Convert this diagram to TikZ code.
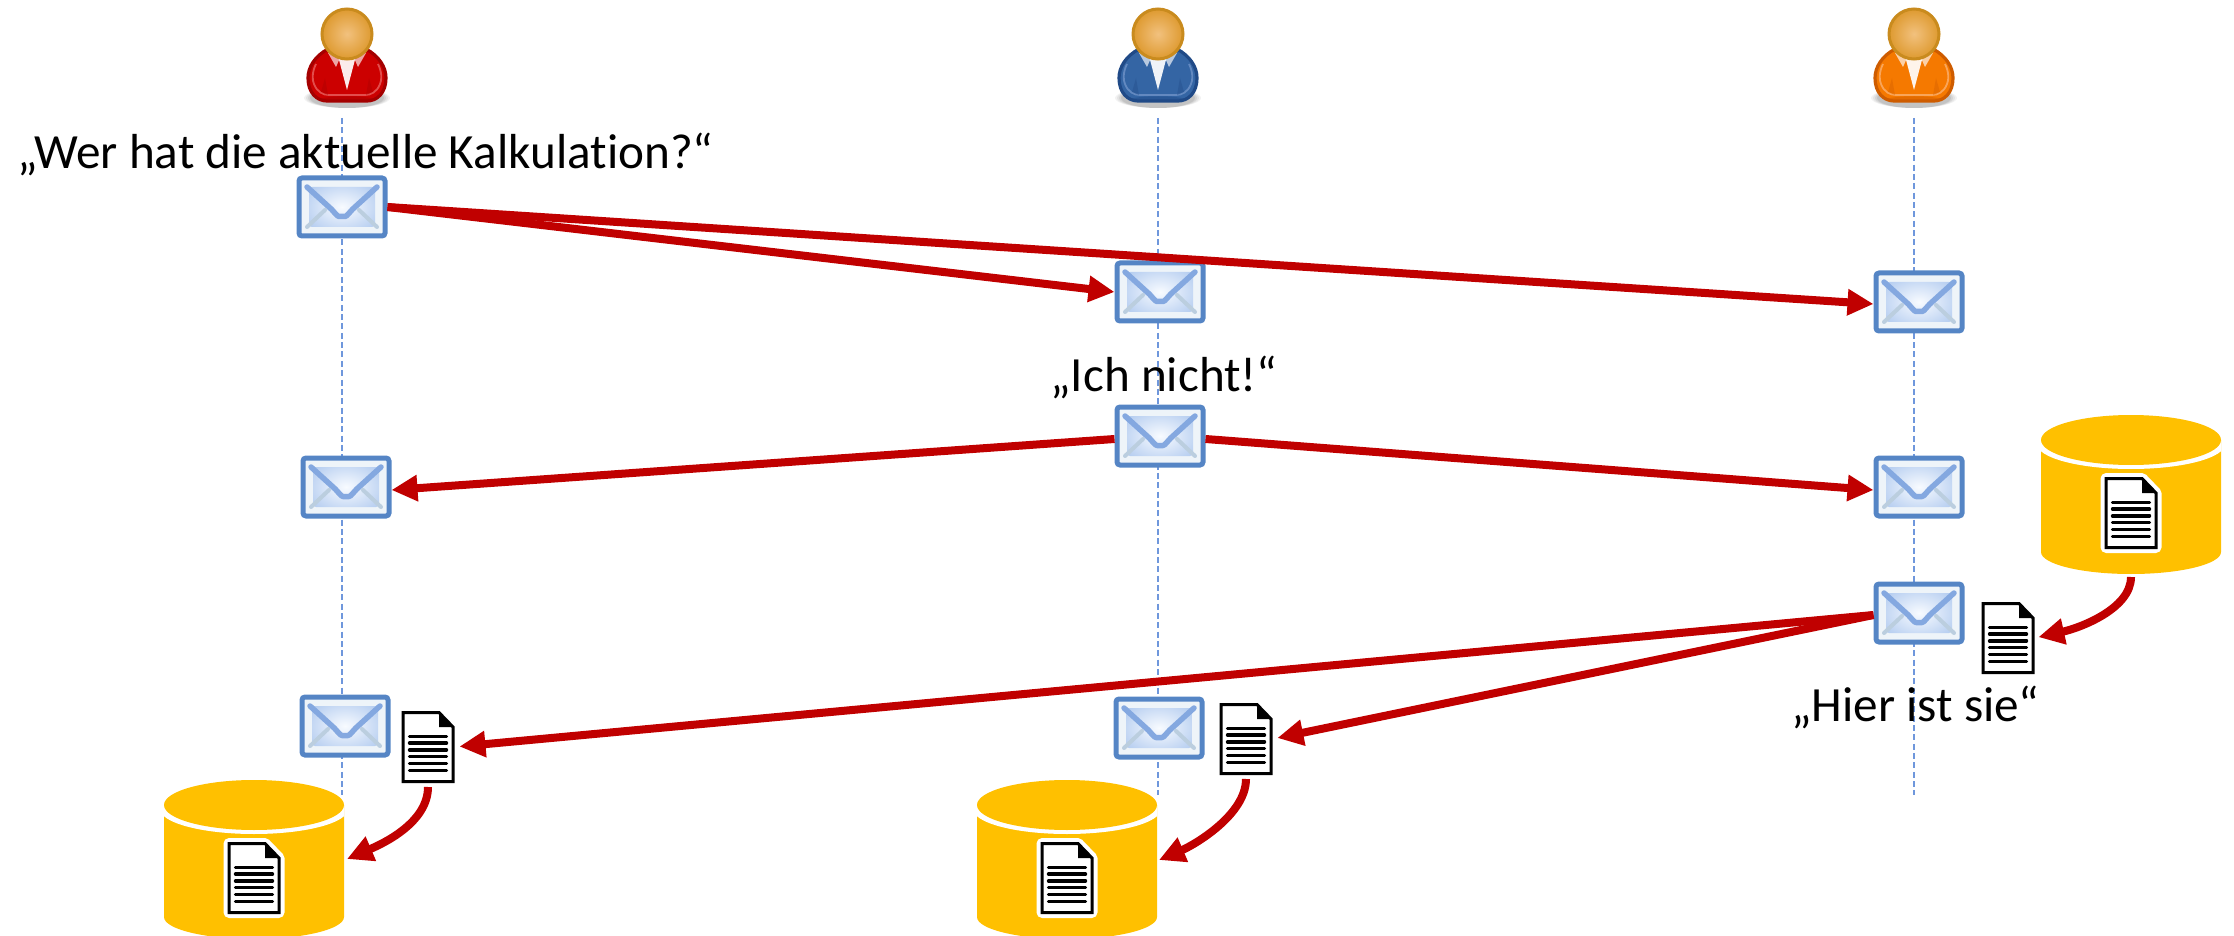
\documentclass[tikz,border=0pt]{standalone}
\usepackage{fontspec}
\setmainfont[Ligatures=CommonOff]{Carlito}
\usetikzlibrary{arrows.meta,calc}
\definecolor{arrowred}{HTML}{C00000}
\definecolor{cylfill}{HTML}{FFC000}
\definecolor{lifeblue}{HTML}{6F97DC}
\definecolor{envblue}{HTML}{5585C5}
\definecolor{envflap}{HTML}{84A8E0}
\definecolor{envlow}{HTML}{BBCEDF}
\definecolor{envring}{HTML}{EEF4F9}
\definecolor{envside}{HTML}{B5CDF0}
\definecolor{envmid}{HTML}{F8FBFF}
\definecolor{head1}{HTML}{F2C17E}
\definecolor{head2}{HTML}{DE9A30}
\definecolor{head3}{HTML}{C98B1E}
\definecolor{redbody}{HTML}{CC0000}
\definecolor{redline}{HTML}{A40000}
\definecolor{redrim}{HTML}{E8615F}
\definecolor{bluebody}{HTML}{3465A4}
\definecolor{blueline}{HTML}{204A87}
\definecolor{bluerim}{HTML}{6F93C8}
\definecolor{orangebody}{HTML}{F57900}
\definecolor{orangeline}{HTML}{CE5C00}
\definecolor{orangerim}{HTML}{FBB070}
\newcommand{\personart}[4]{% body, border, rim, dx
  \begin{scope}
    \pgftransformshift{\pgfpoint{#4*0.5pt}{11pt}}
    \foreach \r/\o in {43/.05,41/.06,39/.07,37/.08}{\fill[black,opacity=\o] (0,64) ellipse[x radius=\r,y radius=10];}
    \path[fill=#1,draw=#2,line width=1.6pt,line join=round]
      (-19,15) .. controls (-32,22) and (-39,33) .. (-39,44)
      .. controls (-39,59) and (-30,67) .. (-20,67) -- (20,67)
      .. controls (30,67) and (39,59) .. (39,44)
      .. controls (39,33) and (32,22) .. (19,15) -- cycle;
    \draw[#3,line width=.9pt,opacity=.8]
      (-31,30) .. controls (-35,38) and (-35,46) .. (-33,50)
      .. controls (-30,58) and (-24,61) .. (-18,61) -- (18,61)
      .. controls (24,61) and (30,58) .. (33,50)
      .. controls (35,46) and (35,38) .. (31,30);
    \fill[#2,opacity=.45] (-30,66) .. controls (-22,61) and (22,61) .. (30,66) -- (20,67) -- (-20,67) -- cycle;
    \fill[#2,opacity=.35] (-26,58) -- (-22,44) -- (-19,61) -- cycle;
    \fill[#2,opacity=.35] (26,58) -- (22,44) -- (19,61) -- cycle;
    \fill[#1!35!white] (-19,19) -- (-11,33) -- (-7,24) -- (7,24) -- (11,33) -- (19,19) -- cycle;
    \fill[white!92!#1] (-9,22) -- (0,56) -- (9,22) -- cycle;
    \shade[inner color=head1,outer color=head2,draw=head3,line width=1.5pt] (0,0) circle[radius=25];
  \end{scope}}
\newcommand{\docoutline}{(-25,-34.5) -- (11,-34.5) -- (25,-20) -- (25,34.5) -- (-25,34.5) -- cycle}
\newcommand{\docart}{%
  \path[fill=white,draw=black,line width=1.5pt,line join=miter] \docoutline;
  \fill[black] (11,-34.5) -- (25,-20) -- (11,-20) -- cycle;
  \foreach \k in {-10.7,-3.9,2.9,9.7,16.5,23.3}{\draw[black,line width=1.7pt,line cap=round] (-18.5,\k) -- (18.5,\k);}}
\tikzset{
  envbox/.style={rectangle,rounded corners=1.5pt,draw=envblue,line width=2.5pt,
    fill=envring,minimum width=43pt,minimum height=29pt,inner sep=0pt,
    path picture={
        \shade[inner color=envmid,outer color=envside] (-33,-20) rectangle (33,20);
        \draw[envlow,line width=2pt,line cap=round] (-35,20) -- (-17,3) (35,20) -- (17,3);
        \draw[envflap,line width=2.75pt,line cap=round,line join=round]
          (-35,-20) -- (-13,0) .. controls (-8,4.6) and (-5,9.5) .. (0,9.5)
          .. controls (5,9.5) and (8,4.6) .. (13,0) -- (35,-20);
      }},
  docbox/.style={rectangle,minimum width=26.5pt,minimum height=36pt,inner sep=0pt,outer sep=0pt,
    path picture={\docart}},
  docin/.style={rectangle,minimum width=31pt,minimum height=40pt,inner sep=0pt,outer sep=0pt,
    path picture={\path[draw=white,fill=white,line width=5.5pt,line join=round] \docoutline; \docart}},
  cylbox/.style={rectangle,minimum width=90pt,minimum height=79.5pt,inner sep=0pt,outer sep=0pt,
    path picture={
      \begin{scope}
        \pgftransformshift{\pgfpoint{0pt}{39.75pt}}
        \fill[cylfill] (-90,25) -- (90,25) -- (90,137) .. controls (90,149) and (50,159) .. (0,159) .. controls (-50,159) and (-90,149) .. (-90,137) -- cycle;
        \fill[white] (0,29) ellipse[x radius=94,y radius=25];
        \fill[cylfill] (0,25) ellipse[x radius=90,y radius=25];
      \end{scope}}},
  personbox/.style n args={4}{rectangle,minimum width=50pt,minimum height=56pt,inner sep=0pt,outer sep=0pt,
    path picture={\personart{#1}{#2}{#3}{#4}}},
  lifeline/.style={draw=lifeblue,line width=.8pt,dash pattern=on 3pt off 1.67pt},
  msgarrow/.style={draw=arrowred,line width=4pt,-{Triangle[length=13pt,width=12.5pt]}},
  saytext/.style={inner sep=0pt,anchor=base west,text=black,font=\fontsize{24.6}{30}\selectfont},
}
\begin{document}
\begin{tikzpicture}[x=0.5pt,y=-0.5pt]
\useasboundingbox (0,0) rectangle (2234,936);
% persons
\node[personbox={redbody}{redline}{redrim}{5}]  (p1) at (342,56)  {};
\node[personbox={bluebody}{blueline}{bluerim}{0}]  (p2) at (1158,56) {};
\node[personbox={orangebody}{orangeline}{orangerim}{0}]  (p3) at (1914,56) {};
% lifeline ends
\coordinate (l1) at (342,795);
\coordinate (l2) at (1158,795);
\coordinate (l3) at (1914,795);
\draw[lifeline,shorten <=3pt] (p1.south) -- (l1);
\draw[lifeline,shorten <=3pt] (p2.south) -- (l2);
\draw[lifeline,shorten <=3pt] (p3.south) -- (l3);
% cylinders
\node[cylbox,anchor=north] (c1) at (254,780)  {};
\node[cylbox,anchor=north] (c2) at (1067,780) {};
\node[cylbox,anchor=north] (c3) at (2131,415) {};
% envelopes
\node[envbox] (e1) at (342,207)  {};
\node[envbox] (e2) at (1160,292) {};
\node[envbox] (e3) at (1919,302) {};
\node[envbox] (e4) at (1160,436) {};
\node[envbox] (e5) at (346,487)  {};
\node[envbox] (e6) at (1919,487) {};
\node[envbox] (e7) at (1919,613) {};
\node[envbox] (e8) at (345,726)  {};
\node[envbox] (e9) at (1159,728) {};
% documents
\node[docbox] (d3) at (2008,638) {};
\node[docbox] (d1) at (428,747)  {};
\node[docbox] (d2) at (1246,739) {};
\node[docin]  (i3) at (2131,513) {};
\node[docin]  (i1) at (254,878)  {};
\node[docin]  (i2) at (1067,878) {};
% arrow ends on the cylinders
\coordinate (t1) at (347,859);
\coordinate (t2) at (1159,860);
% messages
\draw[msgarrow] (e1.east) -- (e2.west);
\draw[msgarrow] (e1.east) -- ($(e3.west)+(0,2)$);
\draw[msgarrow] ($(e4.west)+(0,3)$) -- ($(e5.east)+(0,3)$);
\draw[msgarrow] ($(e4.east)+(0,3)$) -- ($(e6.west)+(0,3)$);
\draw[msgarrow,shorten >=2.5pt] ($(e7.west)+(0,2)$) -- (d1.east);
\draw[msgarrow,shorten >=2.5pt] ($(e7.west)+(0,2)$) -- (d2.east);
% stores
\draw[msgarrow,shorten <=1.5pt,shorten >=2pt] (c3.south) .. controls +(0,35) and +(45,-10) .. (d3.east);
\draw[msgarrow,shorten <=2pt] (d1.south) .. controls +(0,40) and +(35,-15) .. (t1);
\draw[msgarrow,shorten <=2pt] (d2.south) .. controls +(0,40) and +(35,-15) .. (t2);
% texts
\node[saytext] (s1) at (17,169)   {„Wer hat die aktuelle Kalkulation?“};
\node[saytext] (s2) at (1050,392) {„Ich nicht!“};
\node[saytext] (s3) at (1791,721) {„Hier ist sie“};
\end{tikzpicture}
\end{document}
